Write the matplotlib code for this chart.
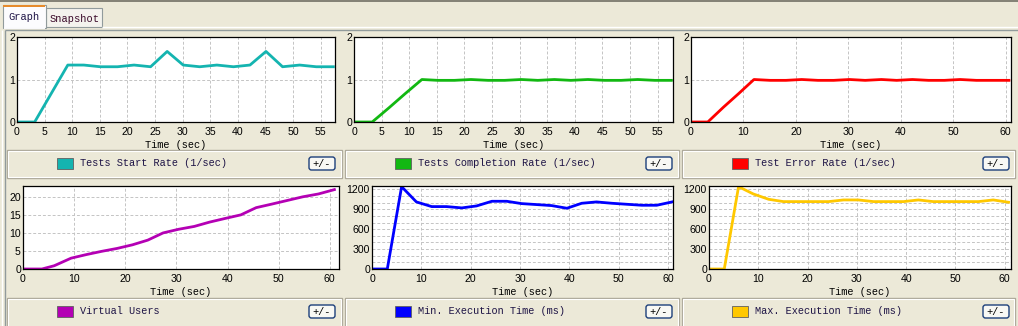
import numpy as np
import matplotlib
matplotlib.use("Agg")
import matplotlib.pyplot as plt
from matplotlib.patches import Rectangle, FancyBboxPatch

W, H = 1018, 326
BG = "#ECE9D8"
GRID = "#C4C4C4"
TXT = "#1E1446"

# ---- data ----
t_start = [0, 3.2, 6.2, 9.2, 12.1, 15.1, 18.2, 21.2, 24.2, 27.2, 30.1, 33.1, 36.2,
           39.2, 42.2, 45.1, 48.1, 51.2, 54.2, 57.3]
start_rate = [0, 0, 0.67, 1.34, 1.34, 1.30, 1.30, 1.34, 1.30, 1.66, 1.34, 1.30, 1.34,
              1.30, 1.34, 1.66, 1.30, 1.34, 1.30, 1.30]

t_compl = [0, 3.3, 6.3, 9.3, 12.3, 15.2, 18.2, 21.2, 24.3, 27.3, 30.3, 33.3, 36.3,
           39.3, 42.4, 45.4, 48.4, 51.4, 54.5, 57.5]
compl_rate = [0, 0, 0.33, 0.67, 1.0, 0.98, 0.98, 1.0, 0.98, 0.98, 1.0, 0.98, 1.0,
              0.98, 1.0, 0.98, 0.98, 1.0, 0.98, 0.98]

t_err = [0, 3.2, 6.2, 9.1, 12.0, 15.1, 18.1, 21.1, 24.2, 27.2, 30.2, 33.2, 36.3,
         39.2, 42.2, 45.3, 48.3, 51.3, 54.4, 57.4, 60.6]
err_rate = [0, 0, 0.35, 0.67, 1.0, 0.98, 0.98, 1.0, 0.98, 0.98, 1.0, 0.98, 1.0,
            0.98, 1.0, 0.98, 0.98, 1.0, 0.98, 0.98, 0.98]

t_users = [0, 3.7, 6.1, 9.4, 12.4, 15.4, 18.4, 21.4, 24.4, 27.4, 30.4, 33.5, 36.5,
           39.5, 42.6, 45.6, 48.7, 51.7, 54.7, 57.8, 60.9]
users = [0, 0, 0.9, 3.0, 4.0, 4.9, 5.7, 6.7, 8.0, 10.0, 11.0, 11.8, 13.0,
         14.0, 15.0, 17.0, 18.0, 19.0, 20.0, 20.8, 22.0]

t_exec = [0, 3.1, 6.0, 9.0, 12.1, 15.1, 18.2, 21.2, 24.3, 27.3, 30.3, 33.4, 36.4,
          39.5, 42.5, 45.5, 48.6, 51.6, 54.7, 57.7, 60.8]
min_exec = [0, 0, 1240, 1010, 940, 940, 920, 950, 1020, 1020, 985, 970, 955,
            915, 990, 1010, 990, 975, 960, 960, 1010]
max_exec = [0, 0, 1240, 1130, 1050, 1015, 1015, 1015, 1015, 1040, 1040, 1015, 1015,
            1015, 1040, 1015, 1015, 1015, 1015, 1040, 1005]

labels = ["Tests Start Rate (1/sec)", "Tests Completion Rate (1/sec)", "Test Error Rate (1/sec)",
          "Virtual Users", "Min. Execution Time (ms)", "Max. Execution Time (ms)"]
colors = ["#14B4B0", "#12B812", "#FF0000", "#B400B4", "#0000FF", "#FFC800"]

fig = plt.figure(figsize=(W / 100, H / 100), dpi=100, facecolor=BG)
bg = fig.add_axes([0, 0, 1, 1])
bg.set_xlim(0, W); bg.set_ylim(H, 0); bg.axis("off")


def px_axes(x0, y0, x1, y1):
    return fig.add_axes([x0 / W, 1 - y1 / H, (x1 - x0) / W, (y1 - y0) / H])


def line(xs, ys, c, lw=1.0, z=2):
    bg.plot(xs, ys, color=c, lw=lw, solid_capstyle="butt", zorder=z)


# ---- window chrome: tabs and borders ----
line([0, W], [0.5, 0.5], "#716F64", 1.2)
line([102, W], [26.5, 26.5], "white")
line([5, W], [30, 30], "#919B9C")
line([5, 5], [30, H], "#919B9C")
line([2, 2], [30, H], "white")
bg.add_patch(Rectangle((46, 8), 56, 19, fc="#F4F3EE", ec="#919B9C", lw=0.8))
bg.add_patch(Rectangle((3, 5), 43, 23, fc="#FCFCFE", ec="#919B9C", lw=0.8, zorder=3))
line([3.6, 45.4], [28, 28], "#FCFCFE", 1.4, z=4)
bg.add_patch(Rectangle((3.5, 4.5), 42, 2.5, fc="#E68B2C", ec="none", zorder=4))
bg.text(24.5, 17, "Graph", ha="center", va="center", fontsize=7.5,
        family="Liberation Mono", color=TXT, zorder=5)
bg.text(75, 18.5, "Snapshot", ha="center", va="center", fontsize=7.5,
        family="Liberation Mono", color="#3A0A2A", zorder=5)


def legend_panel(x0, y0, x1, y1, color, label, bx):
    bg.add_patch(Rectangle((x0, y0), x1 - x0, y1 - y0, fc="none", ec="#ACA899", lw=1))
    bg.add_patch(Rectangle((x0 + 1, y0 + 1), x1 - x0 - 2, y1 - y0 - 2, fc="none", ec="white", lw=0.8))
    yc = y0 + 13.5
    bg.add_patch(Rectangle((x0 + 50, yc - 5.5), 16, 11, fc=color, ec="#606060", lw=0.6))
    bg.text(x0 + 73, yc, label, ha="left", va="center", fontsize=7.4,
            family="Liberation Mono", color=TXT)
    bg.add_patch(FancyBboxPatch((bx, yc - 6.5), 26, 13, boxstyle="round,pad=0,rounding_size=2.5",
                                fc="#F8F8F4", ec="#1C3F7A", lw=1.0))
    bg.text(bx + 13, yc + 0.5, "+/-", ha="center", va="center", fontsize=7.4,
            family="Liberation Mono", color="black")


panels_x = [(7, 342, 309), (345, 679, 646), (682, 1015, 983)]
for i, (x0, x1, bx) in enumerate(panels_x):
    legend_panel(x0, 150, x1, 178, colors[i], labels[i], bx)
    legend_panel(x0, 298, x1, 335, colors[i + 3], labels[i + 3], bx)


def chart(box, t, y, color, xmax, xstep, ymax, ystep, yminor=None):
    ax = px_axes(*box)
    ax.set_facecolor("white")
    ax.plot(t, y, color=color, lw=2.0, solid_joinstyle="round")
    ax.set_xlim(0, xmax)
    ax.set_ylim(0, ymax)
    ax.set_xticks(np.arange(0, xmax, xstep))
    ax.set_yticks(np.arange(0, ymax + 0.01, ystep))
    if yminor:
        ax.set_yticks(np.arange(0, ymax, yminor), minor=True)
        ax.grid(axis="y", which="minor", color=GRID, ls=(0, (3, 2)), lw=0.7)
    ax.grid(color=GRID, ls=(0, (3, 2)), lw=0.7)
    ax.set_axisbelow(True)
    ax.tick_params(which="both", length=0, pad=1.5, labelsize=7.6, colors="black")
    ax.tick_params(axis="x", pad=3.5)
    for lb in ax.get_xticklabels() + ax.get_yticklabels():
        lb.set_family("Liberation Sans")
    ax.set_xlabel("Time (sec)", fontsize=7.4, family="Liberation Mono", labelpad=2.5)
    for s in ax.spines.values():
        s.set_linewidth(0.9); s.set_color("black")
    return ax


chart((17, 37, 335, 122), t_start, start_rate, colors[0], 57.6, 5, 2, 1)
chart((354, 37, 673, 122), t_compl, compl_rate, colors[1], 57.8, 5, 2, 1)
chart((691, 37, 1011, 122), t_err, err_rate, colors[2], 61.0, 10, 2, 1)
chart((23, 186, 339, 269), t_users, users, colors[3], 61.8, 10, 23, 5)
chart((372, 186, 673, 269), t_exec, min_exec, colors[4], 61.0, 10, 1250, 300, 100)
chart((709, 186, 1011, 269), t_exec, max_exec, colors[5], 61.3, 10, 1250, 300, 100)

fig.savefig("out.png", dpi=100, facecolor=BG)
